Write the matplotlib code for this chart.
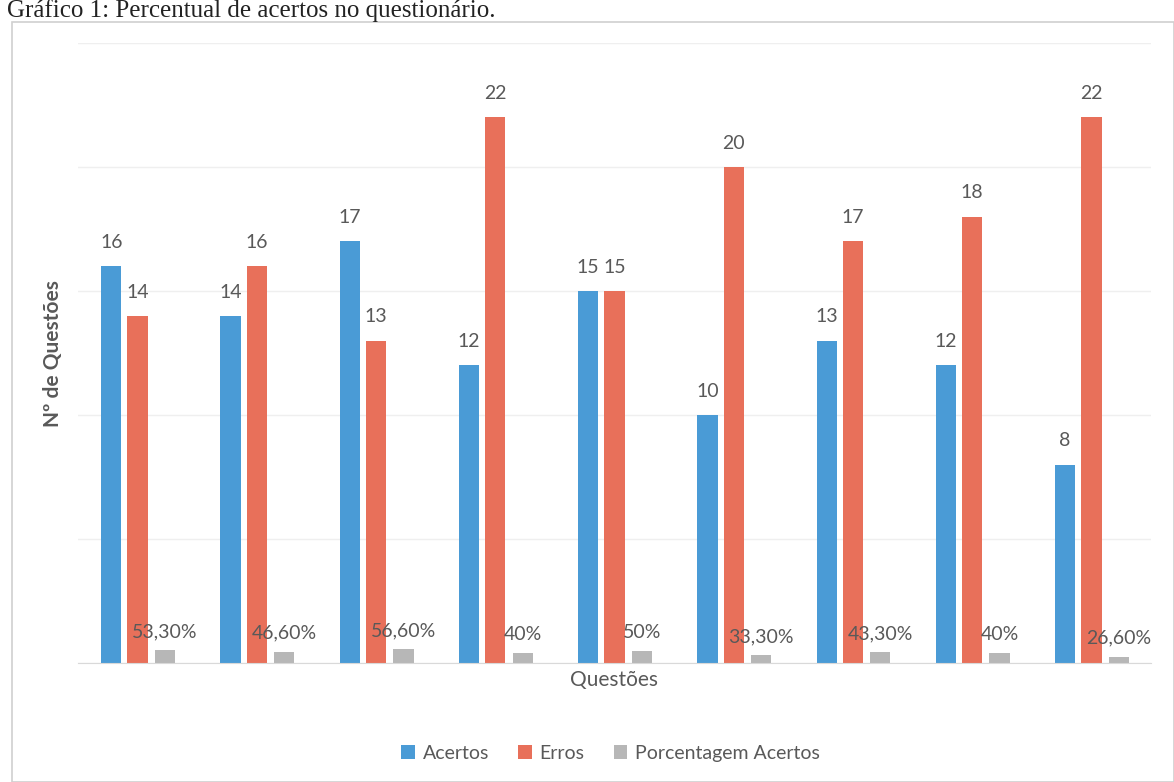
import numpy as np
import matplotlib
matplotlib.use("Agg")
import matplotlib.pyplot as plt
from matplotlib.patches import Rectangle

questoes = list(range(1, 10))
acertos = [16, 14, 17, 12, 15, 10, 13, 12, 8]
erros = [14, 16, 13, 22, 15, 20, 17, 18, 22]
porcentagem = [0.533, 0.466, 0.566, 0.40, 0.50, 0.333, 0.433, 0.40, 0.266]
porcentagem_txt = ["53,30%", "46,60%", "56,60%", "40%", "50%", "33,30%", "43,30%", "40%", "26,60%"]

azul = "#4a9bd6"
laranja = "#e8705a"
cinza = "#b7b7b7"
texto = "#595959"

plt.rcParams['font.family'] = ['Lato', 'DejaVu Sans']

fig = plt.figure(figsize=(11.74, 7.82), dpi=100)
ax = fig.add_axes([0.0664, 0.152, 0.914, 0.793])

x = np.arange(len(questoes))
w = 0.17
b1 = ax.bar(x - 0.22, acertos, w, color=azul, label="Acertos")
b2 = ax.bar(x, erros, w, color=laranja, label="Erros")
b3 = ax.bar(x + 0.23, porcentagem, w, color=cinza, label="Porcentagem Acertos")

for bars, vals in ((b1, acertos), (b2, erros)):
    for r, v in zip(bars, vals):
        ax.annotate(str(v), (r.get_x() + r.get_width() / 2, r.get_height()),
                    xytext=(0, 11), textcoords="offset points", ha="center",
                    va="bottom", fontsize=14, color=texto)
for r, t in zip(b3, porcentagem_txt):
    ax.annotate(t, (r.get_x() + r.get_width() / 2, r.get_height()),
                xytext=(0, 7), textcoords="offset points", ha="center",
                va="bottom", fontsize=14, color=texto)

ax.set_xlim(-0.5, len(questoes) - 0.5)
ax.set_ylim(0, 25)
ax.set_yticks([0, 5, 10, 15, 20, 25])
ax.set_yticklabels([])
ax.set_xticks([])
ax.tick_params(left=False, bottom=False)
ax.grid(axis="y", color="#efefef", linewidth=1)
ax.set_axisbelow(True)
for s in ("top", "right", "left"):
    ax.spines[s].set_visible(False)
ax.spines["bottom"].set_color("#d9d9d9")

ax.set_xlabel("Questões", fontsize=15, color=texto, labelpad=5)
ax.set_ylabel("Nº de Questões", fontsize=15, color=texto, fontweight="bold", labelpad=4)

fig.legend(handles=[b1, b2, b3], loc="center", bbox_to_anchor=(0.52, 0.037),
           ncol=3, frameon=False, fontsize=14, labelcolor=texto,
           handlelength=0.7, handleheight=0.7, columnspacing=1.5, handletextpad=0.4)

fig.patches.append(Rectangle((12 / 1174, 0), 1 - 12 / 1174, 1 - 22 / 782,
                             transform=fig.transFigure, fill=False,
                             edgecolor="#d0d0d0", linewidth=1.2))
fig.text(0.006, 1 - 17 / 782, "Gráfico 1: Percentual de acertos no questionário.",
         family="Liberation Serif", fontsize=18, color="#222222", va="baseline")

fig.savefig("out.png", dpi=100)
